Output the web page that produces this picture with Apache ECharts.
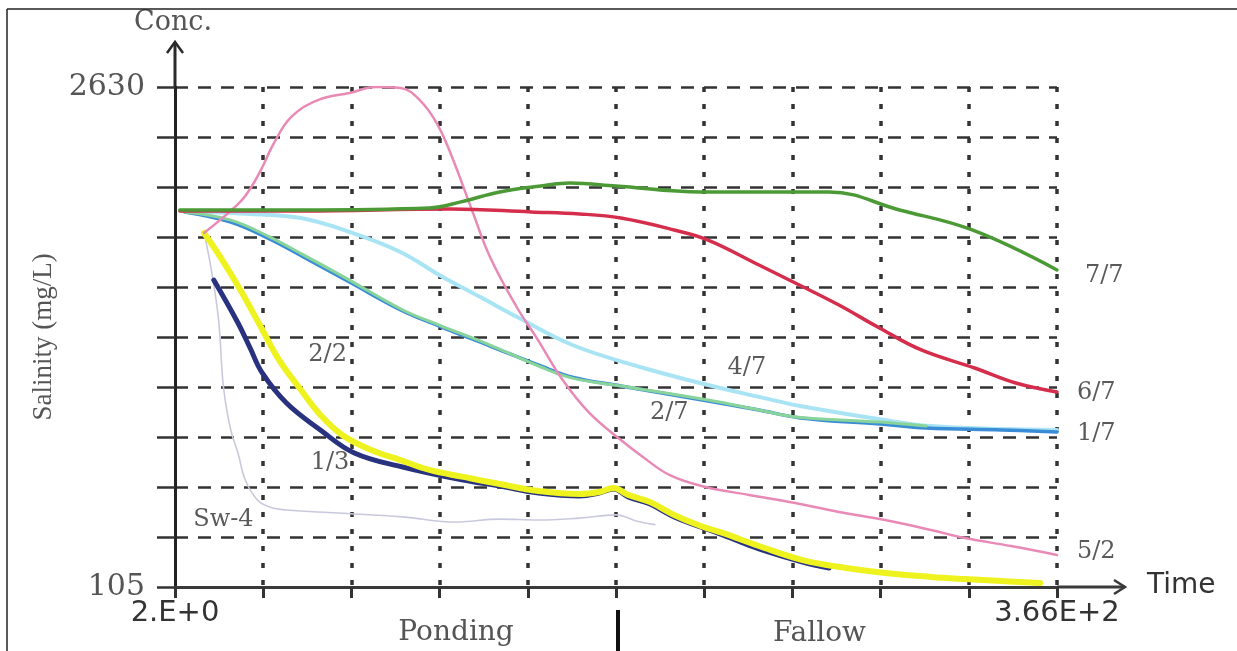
<!DOCTYPE html>
<html>
<head>
<meta charset="utf-8">
<script src="https://cdn.jsdelivr.net/npm/echarts@6/dist/echarts.min.js"></script>
<style>
  html, body { margin: 0; padding: 0; background: #fff; }
  #chart { width: 1237px; height: 651px; }
</style>
</head>
<body>
<div id="chart"></div>
<script>
// Salinity in mg/L against time in days; every series is a list of [day, concentration] pairs.
const DAY_START = 2;
const DAY_END = 366;
const CONC_MIN = 105;
const CONC_MAX = 2630;

const xTickLabels = ['2.E+0', '3.66E+2'];
const yTickLabels = ['105', '2630'];
const phaseNames = ['Ponding', 'Fallow'];
const phaseBoundaryDay = 184;

const sw4 = [[14,1893],[17,1706],[20,1453],[22,1115],[25,898],[28,782],[31,645],[36,544],[41,509],[48,494],[69,479],[96,459],[118,433],[136,448],[152,443],[169,453],[184,469],[192,440],[200,420]];
const series13 = [[18,1655],[28,1438],[33,1312],[38,1186],[48,1034],[62,898],[76,782],[96,711],[121,645],[136,615],[152,580],[169,565],[177,580],[183,600],[189,560],[198,524],[208,459],[228,368],[243,297],[261,231],[272,201]];
const series22 = [[14,1893],[21,1766],[29,1605],[37,1428],[45,1251],[54,1100],[62,974],[71,873],[83,797],[95,746],[107,696],[121,661],[136,625],[152,590],[169,575],[177,585],[183,605],[189,570],[198,534],[208,469],[219,413],[228,378],[243,312],[261,241],[279,201],[295,176],[314,156],[328,145],[343,135],[359,125]];
const series47 = [[5,2004],[33,1989],[54,1968],[74,1898],[95,1797],[111,1681],[128,1569],[144,1463],[166,1327],[194,1216],[222,1125],[243,1065],[260,1019],[295,948],[314,918],[343,903],[366,898]];
const series17 = [[6,1999],[25,1948],[41,1863],[55,1772],[74,1645],[96,1499],[111,1423],[132,1322],[153,1221],[166,1165],[186,1120],[222,1044],[243,999],[260,959],[293,928],[312,908],[343,898],[366,888]];
const series27 = [[6,1999],[25,1958],[41,1873],[55,1782],[74,1655],[96,1504],[111,1428],[132,1327],[153,1216],[166,1160],[186,1120],[222,1049],[243,999],[258,964],[293,938],[312,918]];
const series52 = [[14,1893],[24,1994],[31,2080],[37,2200],[43,2350],[50,2479],[61,2564],[74,2600],[85,2630],[95,2625],[103,2564],[110,2448],[116,2287],[125,1994],[132,1772],[143,1519],[151,1368],[162,1150],[173,984],[186,847],[194,772],[206,671],[221,610],[239,570],[258,529],[276,484],[295,443],[314,393],[328,352],[347,312],[366,267]];
const series67 = [[4,2004],[54,2004],[116,2014],[149,1999],[169,1989],[186,1968],[208,1908],[222,1857],[243,1731],[258,1640],[276,1529],[292,1418],[310,1302],[332,1211],[349,1135],[366,1090]];
const series77 = [[4,2009],[54,2009],[107,2019],[120,2050],[136,2100],[153,2130],[165,2145],[184,2130],[219,2100],[272,2100],[301,2009],[331,1908],[366,1706]];

const X_SPAN = DAY_END - DAY_START;
const Y_SPAN = CONC_MAX - CONC_MIN;
const X_INTERVAL = X_SPAN / 10;
const Y_INTERVAL = Y_SPAN / 10;

// axes start at zero, so values are shifted by the first day and the lowest concentration
const toAxis = p => [p[0] - DAY_START, p[1] - CONC_MIN];
const near = (a, b) => Math.abs(a - b) < 1e-6;

const serifLabel = { fontFamily: 'DejaVu Serif', fontSize: 24, color: '#5a5a5a' };

function lineSeries(name, points, color, width, extra) {
  const s = {
    type: 'line',
    name: name,
    data: points.map(toAxis),
    symbol: 'none',
    smooth: 0.4,
    silent: true,
    lineStyle: { color: color, width: width, cap: 'round', join: 'round' }
  };
  if (extra && extra.end) {
    s.endLabel = Object.assign({ show: true, formatter: name, distance: 20, offset: extra.end }, serifLabel);
  }
  if (extra && extra.note) {
    s.markPoint = {
      silent: true,
      symbol: 'circle',
      symbolSize: 0,
      animation: false,
      data: [{
        coord: toAxis(extra.note),
        label: Object.assign({ show: true, position: 'inside', formatter: name }, serifLabel)
      }]
    };
  }
  return s;
}

const chart = echarts.init(document.getElementById('chart'), null, { renderer: 'canvas' });

chart.setOption({
  animation: false,
  backgroundColor: '#ffffff',
  grid: { left: 175, right: 180, top: 87, bottom: 64, containLabel: false },
  xAxis: {
    type: 'value',
    min: 0,
    max: X_SPAN,
    interval: X_INTERVAL,
    axisLine: { show: true, lineStyle: { color: '#3a3a3a', width: 3 } },
    axisTick: { show: true, length: 11, lineStyle: { color: '#333', width: 3 } },
    axisLabel: {
      show: true,
      margin: 12,
      fontFamily: 'DejaVu Sans',
      fontSize: 29,
      color: '#333',
      showMinLabel: true,
      showMaxLabel: true,
      formatter: v => near(v, 0) ? xTickLabels[0] : (near(v, X_SPAN) ? xTickLabels[1] : '')
    },
    splitLine: {
      show: true,
      showMinLine: false,
      lineStyle: { color: '#333', width: 3.5, type: [5, 12] }
    }
  },
  yAxis: {
    type: 'value',
    min: 0,
    max: Y_SPAN,
    interval: Y_INTERVAL,
    name: 'Salinity (mg/L)',
    nameLocation: 'middle',
    nameGap: 66,
    nameRotate: 90,
    nameTextStyle: { fontFamily: 'Liberation Serif', fontSize: 27, color: '#555' },
    axisLine: { show: true, lineStyle: { color: '#222', width: 3 } },
    axisTick: { show: true, length: 18, lineStyle: { color: '#333', width: 2.5 } },
    axisLabel: {
      show: true,
      margin: 30,
      fontFamily: 'DejaVu Serif',
      fontSize: 30,
      color: '#555',
      showMinLabel: true,
      showMaxLabel: true,
      formatter: v => near(v, 0) ? yTickLabels[0] : (near(v, Y_SPAN) ? yTickLabels[1] : '')
    },
    splitLine: {
      show: true,
      showMinLine: false,
      lineStyle: { color: '#333', width: 2.5, type: [13, 10] }
    }
  },
  series: [
    lineSeries('Sw-4', sw4, '#c9c9dd', 1.6, { note: [22, 443] }),
    lineSeries('1/3', series13, '#28327e', 5, { note: [66, 731] }),
    lineSeries('2/2', series22, '#eef21e', 6, { note: [65, 1277] }),
    lineSeries('4/7', series47, '#a9e4f4', 4, { note: [238, 1211] }),
    lineSeries('1/7', series17, '#3b8cd6', 3.5, { end: [0, 2] }),
    lineSeries('2/7', series27, '#88d49a', 3, { note: [206, 984] }),
    lineSeries('5/2', series52, '#e98ab6', 2.5, { end: [0, -3] }),
    lineSeries('6/7', series67, '#d52e4d', 3.5, { end: [0, 1] }),
    lineSeries('7/7', series77, '#4b9a36', 3.5, { end: [8, 6] })
  ]
});

// axis arrows, captions and the ponding / fallow divider, placed from the axis scale
const origin = chart.convertToPixel({ gridIndex: 0 }, [0, 0]);
const corner = chart.convertToPixel({ gridIndex: 0 }, [X_SPAN, Y_SPAN]);
const divider = chart.convertToPixel({ gridIndex: 0 }, [phaseBoundaryDay - DAY_START, 0]);
const pondingAt = chart.convertToPixel({ gridIndex: 0 }, [118 - DAY_START, 0]);
const fallowAt = chart.convertToPixel({ gridIndex: 0 }, [268 - DAY_START, 0]);

const x0 = origin[0], y0 = origin[1];
const yTip = corner[1] - 45;
const xTip = corner[0] + 68;
const ink = '#2a2a2a';

chart.setOption({
  graphic: [
    { type: 'polyline', silent: true, shape: { points: [[x0, corner[1]], [x0, yTip]] }, style: { stroke: ink, lineWidth: 3 } },
    { type: 'polyline', silent: true, shape: { points: [[x0 - 8, yTip + 11], [x0, yTip], [x0 + 8, yTip + 11]] }, style: { stroke: ink, lineWidth: 2.5, fill: null } },
    { type: 'polyline', silent: true, shape: { points: [[corner[0], y0], [xTip, y0]] }, style: { stroke: '#3a3a3a', lineWidth: 3 } },
    { type: 'polyline', silent: true, shape: { points: [[xTip - 11, y0 - 7], [xTip, y0], [xTip - 11, y0 + 7]] }, style: { stroke: '#3a3a3a', lineWidth: 2.5, fill: null } },
    { type: 'text', silent: true, x: x0 - 2, y: 23, style: { text: 'Conc.', fontFamily: 'DejaVu Serif', fontSize: 27, fill: '#555', align: 'center', verticalAlign: 'middle' } },
    { type: 'text', silent: true, x: xTip + 22, y: y0 - 1, style: { text: 'Time', fontFamily: 'DejaVu Sans', fontSize: 28, fill: '#333', align: 'left', verticalAlign: 'middle' } },
    { type: 'line', silent: true, shape: { x1: divider[0] + 2, y1: y0 + 23, x2: divider[0] + 2, y2: 651 }, style: { stroke: '#111', lineWidth: 4 } },
    { type: 'text', silent: true, x: pondingAt[0], y: y0 + 46, style: { text: phaseNames[0], fontFamily: 'DejaVu Serif', fontSize: 28, fill: '#555', align: 'center', verticalAlign: 'middle' } },
    { type: 'text', silent: true, x: fallowAt[0], y: y0 + 47, style: { text: phaseNames[1], fontFamily: 'DejaVu Serif', fontSize: 28, fill: '#555', align: 'center', verticalAlign: 'middle' } },
    { type: 'line', silent: true, shape: { x1: 7, y1: 9, x2: 1237, y2: 9 }, style: { stroke: '#222', lineWidth: 1.5 } },
    { type: 'line', silent: true, shape: { x1: 7, y1: 9, x2: 7, y2: 651 }, style: { stroke: '#222', lineWidth: 1.5 } }
  ]
});
</script>
</body>
</html>
